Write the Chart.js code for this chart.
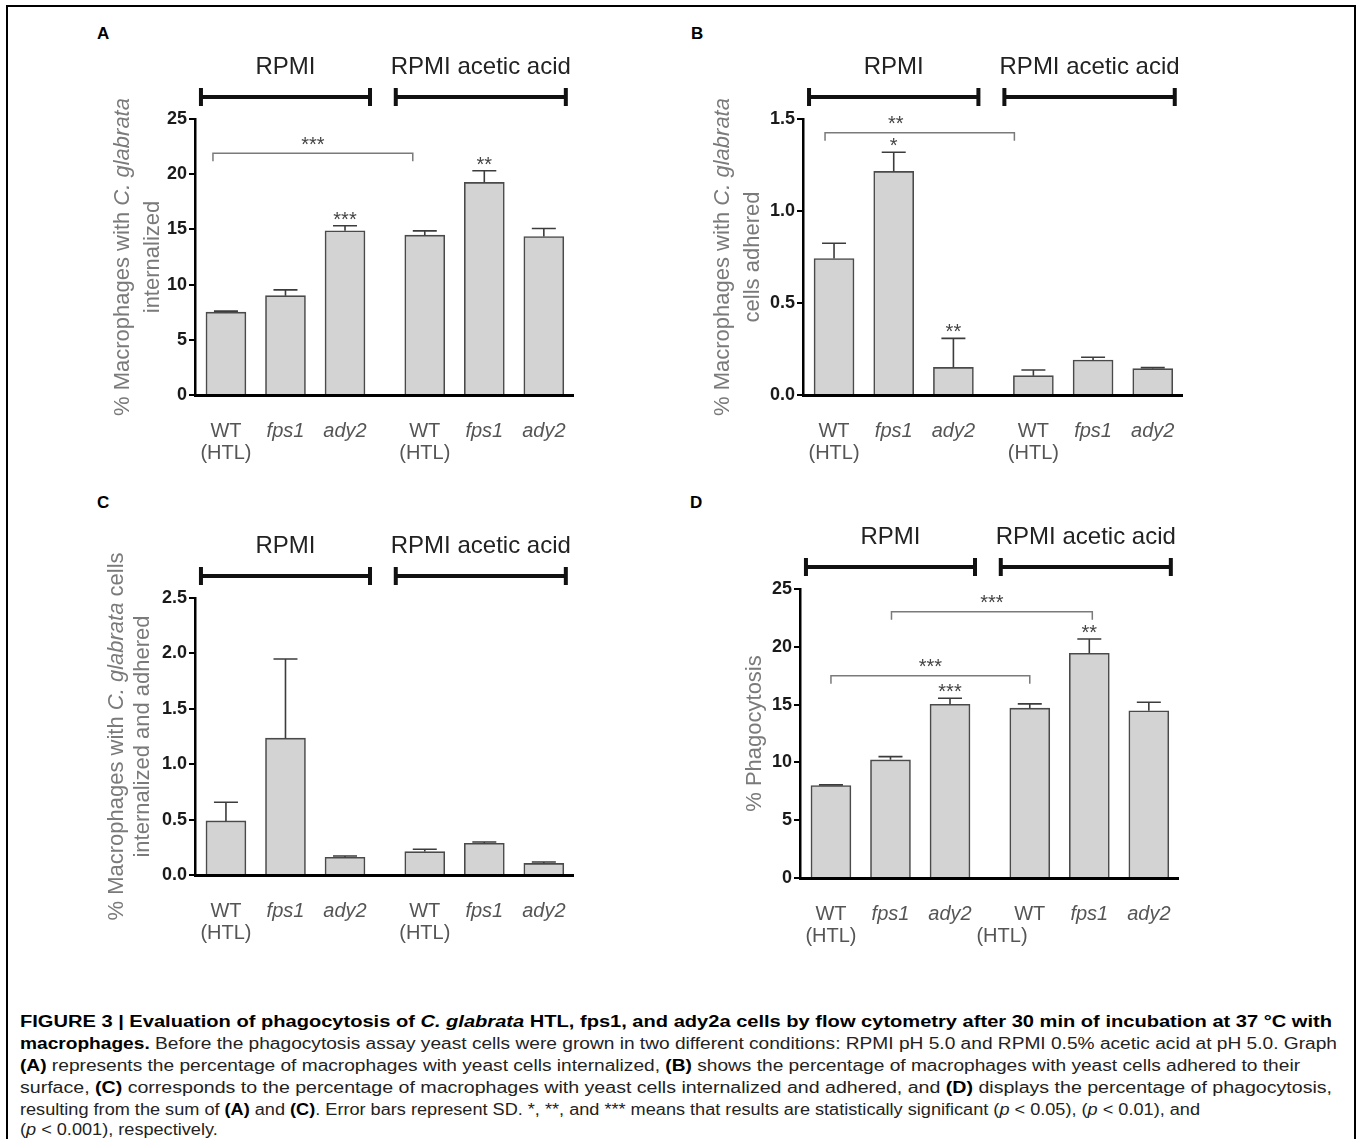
<!DOCTYPE html>
<html>
<head>
<meta charset="utf-8">
<script src="https://cdn.jsdelivr.net/npm/chart.js@4.4.0/dist/chart.umd.min.js"></script>
<style>
  body { margin: 0; background: #fff; width: 1358px; height: 1139px; position: relative; overflow: hidden;
         font-family: "Liberation Sans", Arial, sans-serif; }
  .frame { position: absolute; left: 6px; top: 5px; width: 1350px; height: 1150px; border: 2px solid #000; box-sizing: border-box; }
  canvas { position: absolute; }
  .letter { position: absolute; font-weight: bold; font-size: 17px; color: #000; }
  .cap { position: absolute; left: 20px; white-space: nowrap; font-size: 16px; line-height: 20px; color: #222; transform-origin: 0 0; }
  .cap b { color: #000; }
</style>
</head>
<body>
<div class="frame"></div>

<div class="letter" style="left:97px;top:24px">A</div>
<div class="letter" style="left:691px;top:24px">B</div>
<div class="letter" style="left:97px;top:493px">C</div>
<div class="letter" style="left:690px;top:493px">D</div>

<canvas id="chartA" width="600" height="450" style="left:80px;top:20px"></canvas>
<canvas id="chartB" width="600" height="450" style="left:680px;top:20px"></canvas>
<canvas id="chartC" width="600" height="470" style="left:80px;top:480px"></canvas>
<canvas id="chartD" width="600" height="470" style="left:680px;top:480px"></canvas>

<div class="cap" data-w="1312" style="top:1012px"><b>FIGURE 3 | Evaluation of phagocytosis of <i>C. glabrata</i> HTL, fps1, and ady2a cells by flow cytometry after 30 min of incubation at 37 °C with</b></div>
<div class="cap" data-w="1317" style="top:1034px"><b>macrophages.</b> Before the phagocytosis assay yeast cells were grown in two different conditions: RPMI pH 5.0 and RPMI 0.5% acetic acid at pH 5.0. Graph</div>
<div class="cap" data-w="1280" style="top:1056px"><b>(A)</b> represents the percentage of macrophages with yeast cells internalized, <b>(B)</b> shows the percentage of macrophages with yeast cells adhered to their</div>
<div class="cap" data-w="1312" style="top:1078px">surface, <b>(C)</b> corresponds to the percentage of macrophages with yeast cells internalized and adhered, and <b>(D)</b> displays the percentage of phagocytosis,</div>
<div class="cap" data-w="1180" style="top:1100px">resulting from the sum of <b>(A)</b> and <b>(C)</b>. Error bars represent SD. *, **, and *** means that results are statistically significant (<i>p</i> &lt; 0.05), (<i>p</i> &lt; 0.01), and</div>
<div class="cap" style="top:1120px">(<i>p</i> &lt; 0.001), respectively.</div>

<script>
const strains = [['WT', '(HTL)'], 'fps1', 'ady2', ['WT', '(HTL)'], 'fps1', 'ady2'];
const media = ['RPMI', 'RPMI acetic acid'];

// A: internalized
const internalized = [7.5, 9.0, 14.87, 14.48, 19.26, 14.36];
const internalizedSD = [0.1, 0.52, 0.46, 0.39, 1.05, 0.72];
const internalizedStars = ['', '', '***', '', '**', ''];
const yTicksA = [0, 5, 10, 15, 20, 25];

// B: adhered
const adhered = [0.742, 1.215, 0.150, 0.105, 0.190, 0.143];
const adheredSD = [0.083, 0.104, 0.158, 0.031, 0.015, 0.006];
const adheredStars = ['', '*', '**', '', '', ''];
const yTicksB = [0, 0.5, 1.0, 1.5];

// C: internalized and adhered
const both = [0.488, 1.235, 0.160, 0.211, 0.286, 0.105];
const bothSD = [0.169, 0.714, 0.012, 0.021, 0.012, 0.012];
const bothStars = ['', '', '', '', '', ''];
const yTicksC = [0, 0.5, 1.0, 1.5, 2.0, 2.5];

// D: phagocytosis
const phago = [8.0, 10.22, 15.03, 14.69, 19.44, 14.46];
const phagoSD = [0.06, 0.28, 0.52, 0.37, 1.24, 0.74];
const phagoStars = ['', '', '***', '', '**', ''];
const yTicksD = [0, 5, 10, 15, 20, 25];

const FONT = '"Liberation Sans", Arial, sans-serif';
// second medium group is shifted right a bit
const xPos = strains.map((s, i) => i + (i >= 3 ? 0.34 : 0));

function makeDecor(p) {
    return {
        id: 'decor',
        afterDatasetsDraw(chart) {
            const ctx = chart.ctx;
            const xs = chart.scales.x, ys = chart.scales.y;
            const area = chart.chartArea;
            const meta = chart.getDatasetMeta(0);
            ctx.save();

            // error bars (upper SD only) and stars
            ctx.strokeStyle = '#3c3c3c';
            ctx.lineWidth = 1.6;
            p.sd.forEach((sd, i) => {
                const bar = meta.data[i];
                const top = ys.getPixelForValue(p.mean[i] + sd);
                ctx.beginPath();
                ctx.moveTo(bar.x, bar.y);
                ctx.lineTo(bar.x, top);
                ctx.moveTo(bar.x - 12, top);
                ctx.lineTo(bar.x + 12, top);
                ctx.stroke();
                if (p.stars[i]) {
                    ctx.fillStyle = '#444';
                    ctx.font = '20px ' + FONT;
                    ctx.textAlign = 'center';
                    ctx.textBaseline = 'alphabetic';
                    ctx.fillText(p.stars[i], bar.x, top);
                }
            });

            // comparison brackets
            ctx.strokeStyle = '#7a7a7a';
            ctx.lineWidth = 1.5;
            p.brackets.forEach(b => {
                const x1 = xs.getPixelForValue(xPos[b.from]) + b.dx[0];
                const x2 = xs.getPixelForValue(xPos[b.to]) + b.dx[1];
                const yy = ys.getPixelForValue(b.level);
                ctx.beginPath();
                ctx.moveTo(x1, yy + 8);
                ctx.lineTo(x1, yy);
                ctx.lineTo(x2, yy);
                ctx.lineTo(x2, yy + 8);
                ctx.stroke();
                ctx.fillStyle = '#444';
                ctx.font = '20px ' + FONT;
                ctx.textAlign = 'center';
                ctx.textBaseline = 'alphabetic';
                ctx.fillText(b.text, (x1 + x2) / 2 + (b.textDx || 0), yy - 2.5);
            });

            // medium group bars and labels
            const groups = [[0, 2, -25, 25], [3, 5, -29, 22]];
            groups.forEach((g, gi) => {
                const x1 = xs.getPixelForValue(xPos[g[0]]) + g[2];
                const x2 = xs.getPixelForValue(xPos[g[1]]) + g[3];
                const yy = area.top - 22;
                ctx.strokeStyle = '#111';
                ctx.lineWidth = 4;
                ctx.beginPath();
                ctx.moveTo(x1, yy); ctx.lineTo(x2, yy);
                ctx.moveTo(x1, yy - 9); ctx.lineTo(x1, yy + 9);
                ctx.moveTo(x2, yy - 9); ctx.lineTo(x2, yy + 9);
                ctx.stroke();
                ctx.fillStyle = '#222';
                ctx.font = '24px ' + FONT;
                ctx.textAlign = 'center';
                ctx.textBaseline = 'middle';
                ctx.fillText(media[gi], (x1 + x2) / 2, area.top - 52);
            });

            // y title, with italic species name
            ctx.translate(area.left + p.titleX, (area.top + area.bottom) / 2);
            ctx.rotate(-Math.PI / 2);
            ctx.fillStyle = '#7a7a7a';
            ctx.textAlign = 'left';
            ctx.textBaseline = 'middle';
            p.title.forEach((segs, li) => {
                let total = 0;
                segs.forEach(s => { ctx.font = s[1] + ' 22px ' + FONT; total += ctx.measureText(s[0]).width; });
                let px = -total / 2;
                const py = (li - (p.title.length - 1) / 2) * p.titleGap;
                segs.forEach(s => {
                    ctx.font = s[1] + ' 22px ' + FONT;
                    ctx.fillText(s[0], px, py);
                    px += ctx.measureText(s[0]).width;
                });
            });
            ctx.restore();
        }
    };
}

function makePanel(id, p) {
    const labels = p.labels || strains;
    new Chart(document.getElementById(id), {
        type: 'bar',
        data: {
            datasets: [{
                data: p.mean.map((v, i) => ({ x: xPos[i], y: v })),
                backgroundColor: '#d3d3d3',
                borderColor: '#4a4a4a',
                borderWidth: 1.6,
                barThickness: 40
            }]
        },
        options: {
            responsive: false,
            animation: false,
            layout: { padding: { left: 0, top: p.padTop, right: p.padRight, bottom: 0 } },
            plugins: { legend: { display: false }, tooltip: { enabled: false } },
            scales: {
                x: {
                    type: 'linear',
                    offset: false,
                    min: -0.52,
                    max: 5.83,
                    afterBuildTicks: s => { s.ticks = xPos.map(v => ({ value: v })); },
                    afterFit: s => { s.height = p.xHeight; },
                    grid: { display: false },
                    border: { display: true, color: '#000', width: 3 },
                    ticks: {
                        autoSkip: false,
                        maxRotation: 0,
                        padding: 17,
                        color: '#555',
                        font: c => ({ family: FONT, size: 20, lineHeight: 1.1, style: c.index % 3 === 0 ? 'normal' : 'italic' }),
                        callback: (v, i) => labels[i]
                    }
                },
                y: {
                    min: p.yTicks[0],
                    max: p.yTicks[p.yTicks.length - 1],
                    afterBuildTicks: s => { s.ticks = p.yTicks.map(v => ({ value: v })); },
                    afterFit: s => { s.width = p.yWidth; },
                    grid: { drawOnChartArea: false, drawTicks: true, tickLength: 6, color: '#000', lineWidth: 2 },
                    border: { display: true, color: '#000', width: 2.5 },
                    ticks: {
                        padding: 2,
                        color: '#1a1a1a',
                        font: { family: FONT, size: 18, weight: 'bold' },
                        callback: v => p.decimals ? v.toFixed(p.decimals) : v
                    }
                }
            }
        },
        plugins: [makeDecor(p)]
    });
}

makePanel('chartA', {
    mean: internalized, sd: internalizedSD, stars: internalizedStars, yTicks: yTicksA,
    padTop: 99, padRight: 107, yWidth: 115, xHeight: 75,
    title: [[['% Macrophages with ', 'normal'], ['C. glabrata', 'italic']], [['internalized', 'normal']]],
    titleX: -57, titleGap: 29.5,
    brackets: [{ from: 0, to: 3, level: 21.9, text: '***', dx: [-13, -12] }]
});

makePanel('chartB', {
    mean: adhered, sd: adheredSD, stars: adheredStars, yTicks: yTicksB, decimals: 1,
    padTop: 99, padRight: 98, yWidth: 123, xHeight: 75,
    title: [[['% Macrophages with ', 'normal'], ['C. glabrata', 'italic']], [['cells adhered', 'normal']]],
    titleX: -65, titleGap: 29.5,
    brackets: [{ from: 0, to: 3, level: 1.425, text: '**', dx: [-9, -19], textDx: -24 }]
});

makePanel('chartC', {
    mean: both, sd: bothSD, stars: bothStars, yTicks: yTicksC, decimals: 1,
    padTop: 118, padRight: 107, yWidth: 115, xHeight: 75,
    title: [[['% Macrophages with ', 'normal'], ['C. glabrata', 'italic'], [' cells', 'normal']], [['internalized and adhered', 'normal']]],
    titleX: -65, titleGap: 26.5,
    brackets: []
});

makePanel('chartD', {
    mean: phago, sd: phagoSD, stars: phagoStars, yTicks: yTicksD,
    padTop: 109, padRight: 102, yWidth: 120, xHeight: 72,
    labels: strains.map((s, i) => i === 3 ? ['WT', '(HTL)' + '\u00a0'.repeat(10)] : s),
    title: [[['% Phagocytosis', 'normal']]],
    titleX: -45, titleGap: 0,
    brackets: [
        { from: 1, to: 4, level: 23.04, text: '***', dx: [1, 3] },
        { from: 0, to: 3, level: 17.49, text: '***', dx: [0, 0] }
    ]
});

// fit each caption line to its width in the column; the short last line keeps the previous squeeze
let capScale = 1;
document.querySelectorAll('.cap').forEach(el => {
    if (el.dataset.w) capScale = Number(el.dataset.w) / el.getBoundingClientRect().width;
    el.style.transform = 'scaleX(' + capScale + ')';
});
</script>
</body>
</html>
